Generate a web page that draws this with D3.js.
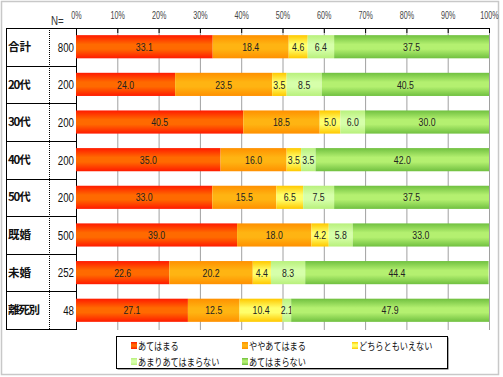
<!DOCTYPE html>
<html><head><meta charset="utf-8">
<script src="https://cdn.jsdelivr.net/npm/d3@7"></script>
<style>body{margin:0;background:#fff}svg{display:block}</style>
</head><body><svg id="c" width="503" height="377"></svg>
<script>
const categories = ["合計","20代","30代","40代","50代","既婚","未婚","離死別"];
const nValues = [800,200,200,200,200,500,252,48];
const seriesNames = ["あてはまる","ややあてはまる","どちらともいえない","あまりあてはまらない","あてはまらない"];
const s1 = [33.1,24.0,40.5,35.0,33.0,39.0,22.6,27.1];
const s2 = [18.4,23.5,18.5,16.0,15.5,18.0,20.2,12.5];
const s3 = [4.6,3.5,5.0,3.5,6.5,4.2,4.4,10.4];
const s4 = [6.4,8.5,6.0,3.5,7.5,5.8,8.3,2.1];
const s5 = [37.5,40.5,30.0,42.0,37.5,33.0,44.4,47.9];
const tickValues = [0,10,20,30,40,50,60,70,80,90,100];
const seriesData = [s1,s2,s3,s4,s5];

const colors = [
  {edge:"#ff1a00", mid:"#ff6a00"},
  {edge:"#ff9000", mid:"#ffb412"},
  {edge:"#ffc800", mid:"#ffff6a"},
  {edge:"#b8f07c", mid:"#d6ffaa"},
  {edge:"#70c040", mid:"#b4f070"}
];
const num = "'Liberation Sans',Arial,sans-serif";
const cjk = "'Noto Sans CJK JP',sans-serif";

const svg = d3.select("#c");
const defs = svg.append("defs");
colors.forEach((c,i)=>{
  const g = defs.append("linearGradient").attr("id","g"+i).attr("x1",0).attr("y1",0).attr("x2",0).attr("y2",1);
  g.append("stop").attr("offset","0%").attr("stop-color",c.edge);
  g.append("stop").attr("offset","40%").attr("stop-color",c.mid);
  g.append("stop").attr("offset","60%").attr("stop-color",c.mid);
  g.append("stop").attr("offset","100%").attr("stop-color",c.edge);
});

// outer border
svg.append("rect").attr("x",1.5).attr("y",1.5).attr("width",497).attr("height",373)
  .attr("fill","none").attr("stroke","#c8c8c8").attr("stroke-width",1.5);

const x = d3.scaleLinear().domain([0,100]).range([76,489]);
const y = d3.scaleBand().domain(categories).range([28,329]).paddingInner(0.385).paddingOuter(0.19);
const rowH = (329-28)/categories.length;

// grid lines
svg.append("g").selectAll("line").data(tickValues.slice(1)).join("line")
  .attr("x1",d=>x(d)+0.5).attr("x2",d=>x(d)+0.5).attr("y1",28).attr("y2",330)
  .attr("stroke","#a0a0a0").attr("stroke-width",1);

// top axis
const axis = d3.axisTop(x).tickValues(tickValues).tickFormat(d=>d+"%").tickSize(0).tickPadding(11);
const ag = svg.append("g").attr("transform","translate(0,28)").call(axis);
ag.select(".domain").remove();
ag.selectAll("text").attr("font-family",num)
  .attr("font-size",10).attr("fill","#444").attr("dy","0.15em").attr("transform","scale(0.72,1)");
// tick marks below axis line
svg.append("g").selectAll("line").data(tickValues).join("line")
  .attr("x1",d=>x(d)+0.5).attr("x2",d=>x(d)+0.5).attr("y1",28).attr("y2",33)
  .attr("stroke","#000");
svg.append("line").attr("x1",6).attr("x2",489).attr("y1",28.5).attr("y2",28.5).attr("stroke","#000");

// table
svg.append("line").attr("x1",6.5).attr("x2",6.5).attr("y1",28).attr("y2",329).attr("stroke","#000");
svg.append("line").attr("x1",76.5).attr("x2",76.5).attr("y1",28).attr("y2",330).attr("stroke","#000");
svg.append("line").attr("x1",49.5).attr("x2",49.5).attr("y1",28).attr("y2",329).attr("stroke","#000").attr("stroke-dasharray","1,1");
svg.append("g").selectAll("line").data(d3.range(1,categories.length+1)).join("line")
  .attr("x1",6).attr("x2",76).attr("y1",i=>Math.round(28+i*rowH)+0.5).attr("y2",i=>Math.round(28+i*rowH)+0.5)
  .attr("stroke","#000");

svg.append("text").attr("transform","translate(51,25) scale(0.75,1)").text("N=")
  .attr("font-family",num).attr("font-size",13).attr("fill","#333");

svg.append("g").selectAll("text").data(categories).join("text")
  .attr("x",8).attr("y",d=>y(d)+y.bandwidth()/2).attr("dy","0.36em")
  .attr("font-family",cjk).attr("font-size",11.5).attr("font-weight","bold").attr("letter-spacing",(d)=>d.length>2?"-1.2":"0").attr("fill","#111").text(d=>d);
svg.append("g").selectAll("text").data(categories).join("text")
  .attr("transform",d=>`translate(74,${y(d)+y.bandwidth()/2}) scale(0.72,1)`).attr("dy","0.36em").attr("text-anchor","end")
  .attr("font-family",num).attr("font-size",13.5).attr("fill","#111")
  .text((d,i)=>nValues[i]);

// bars
const stackRows = categories.map((c,i)=>{
  const o = {cat:c}; seriesNames.forEach((s,j)=>o[s]=seriesData[j][i]); return o;
});
const stacked = d3.stack().keys(seriesNames)(stackRows);
const bg = svg.append("g");
stacked.forEach((layer,j)=>{
  const g = bg.append("g");
  g.selectAll("rect").data(layer).join("rect")
    .attr("x",d=>x(d[0])).attr("width",d=>x(d[1])-x(d[0]))
    .attr("y",d=>y(d.data.cat)).attr("height",y.bandwidth())
    .attr("fill","url(#g"+j+")");
  g.selectAll("text").data(layer).join("text")
    .attr("transform",d=>`translate(${(x(d[0])+x(d[1]))/2},${y(d.data.cat)+y.bandwidth()/2}) scale(0.76,1)`)
    .attr("dy","0.36em").attr("text-anchor","middle")
    .attr("font-family",num).attr("font-size",11.5).attr("fill","#222")
    .text(d=>(d[1]-d[0]).toFixed(1));
});

// legend
svg.append("rect").attr("x",117.5).attr("y",337.5).attr("width",331).attr("height",32).attr("fill","#555");
svg.append("rect").attr("x",116.5).attr("y",336.5).attr("width",331).attr("height",32).attr("fill","#fff").attr("stroke","#000");
const legPos = [[131,346],[242,346],[352,346],[131,362],[242,362]];
const lg = svg.append("g").selectAll("g").data(seriesNames).join("g")
  .attr("transform",(d,i)=>`translate(${legPos[i][0]},${legPos[i][1]})`);
lg.append("rect").attr("x",0).attr("y",-4).attr("width",6).attr("height",7).attr("fill",(d,i)=>"url(#g"+i+")");
lg.append("text").attr("transform","translate(7,0) scale(0.78,1)").attr("dy","0.36em").attr("font-family",cjk).attr("font-size",10.5)
  .attr("fill","#111").text(d=>d);
</script></body></html>
